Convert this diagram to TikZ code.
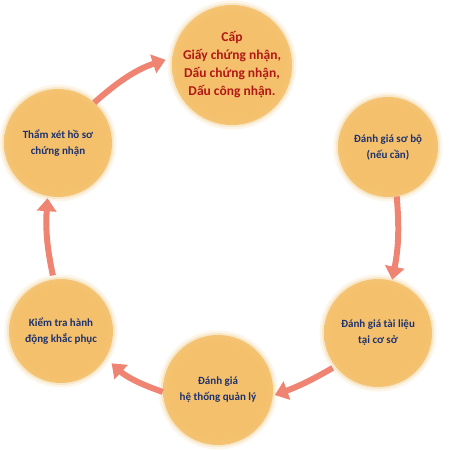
\documentclass[tikz,border=0pt]{standalone}
\usepackage{fontspec}
\setmainfont{Carlito}
\usepackage{xcolor}
\usepackage{tikz}
\usetikzlibrary{arrows.meta,positioning}

\definecolor{ballcore}{RGB}{244,192,108}
\definecolor{ballmid}{RGB}{247,210,142}
\definecolor{ballrim}{RGB}{254,242,216}
\definecolor{ballhalo}{RGB}{246,226,190}
\definecolor{capred}{RGB}{178,24,22}
\definecolor{stepblue}{RGB}{30,50,110}
\definecolor{flowred}{RGB}{240,132,114}

\pgfdeclareradialshading{ballshade}{\pgfpoint{0bp}{0bp}}{color(0bp)=(ballcore); color(22bp)=(ballcore); color(38bp)=(ballmid); color(46bp)=(ballrim); color(48.5bp)=(ballrim); color(50bp)=(ballmid)}

\begin{document}
\begin{tikzpicture}[x=1pt,y=1pt,
		ball/.style={circle,shading=ballshade,minimum size=#1,inner sep=0pt,align=center,
			preaction={draw=ballhalo,line width=9pt,opacity=0.35},
			preaction={draw=ballhalo,line width=4pt,opacity=0.7}},
		captext/.style={font=\fontsize{13.5}{18}\selectfont\bfseries,text=capred},
		steptext/.style={font=\fontsize{11}{16}\selectfont\bfseries,text=stepblue},
		flow/.style={line width=6pt,draw=flowred,-{Triangle[width=19pt,length=13pt,fill=flowred]}}]
	\useasboundingbox (0,0) rectangle (450,450);
	% the six steps, clockwise from the top
	\node[ball=120pt,captext] (cap) at (232,385) {Cấp\\Giấy chứng nhận,\\Dấu chứng nhận,\\Dấu công nhận.};
	\node[ball=100pt,steptext] (sobo) at (388,303) {Đánh giá sơ bộ\\(nếu cần)};
	\node[ball=108pt,steptext] (tailieu) at (378,117) {Đánh giá tài liệu\\tại cơ sở};
	\node[ball=110pt,steptext] (hethong) at (218,60) {Đánh giá\\hệ thống quản lý};
	\node[ball=104pt,steptext] (khacphuc) at (61,119) {Kiểm tra hành\\động khắc phục};
	\node[ball=108pt,steptext] (thamxet) at (58,307) {Thẩm xét hồ sơ\\chứng nhận};
	% arrows
	\draw[flow,shorten >=7pt] (thamxet.48) to[bend left=12] (cap.173);
	\draw[flow,shorten >=1pt] (sobo.280) to[bend left=8] (tailieu.75);
	\draw[flow,shorten <=3pt,shorten >=2pt] (tailieu.218) to[bend left=5] (hethong.354);
	\draw[flow,shorten >=8pt] (hethong.182) to[bend left=12] (khacphuc.329);
	\draw[flow,shorten <=4pt,shorten >=2pt] (khacphuc.98) to[bend left=8] (thamxet.259);
\end{tikzpicture}
\end{document}
